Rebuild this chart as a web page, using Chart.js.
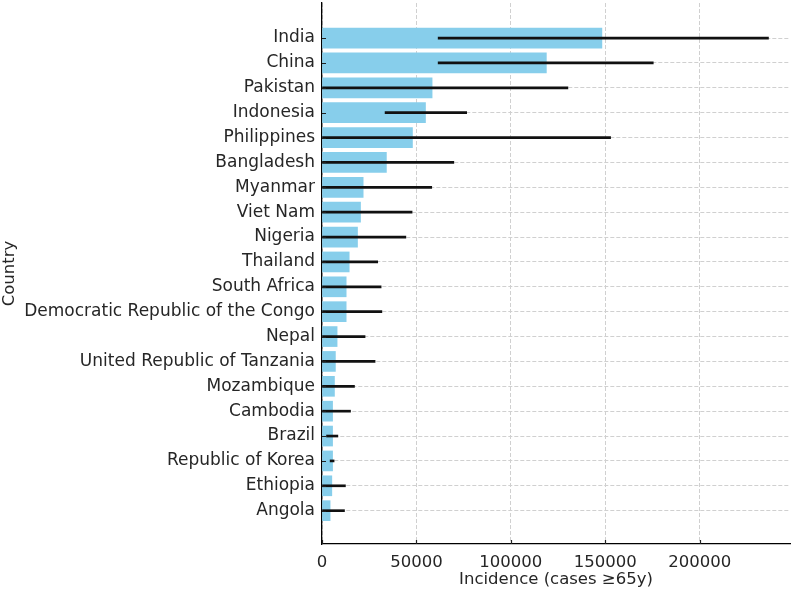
<!DOCTYPE html>
<html lang="en">
<head>
<meta charset="UTF-8" />
<title>Incidence (cases ≥65y) by country</title>
<script src="https://cdn.jsdelivr.net/npm/chart.js"></script>
<style>
  html, body { margin: 0; padding: 0; background: #fff; }
  #wrap { width: 794px; height: 591px; }
</style>
</head>
<body>
<div id="wrap"><canvas id="incidenceChart" width="794" height="591"></canvas></div>
<script>
// data
const countries = ['India', 'China', 'Pakistan', 'Indonesia', 'Philippines', 'Bangladesh',
  'Myanmar', 'Viet Nam', 'Nigeria', 'Thailand', 'South Africa',
  'Democratic Republic of the Congo', 'Nepal', 'United Republic of Tanzania',
  'Mozambique', 'Cambodia', 'Brazil', 'Republic of Korea', 'Ethiopia', 'Angola'];
const incidence  = [148200, 118800, 58300, 54800, 47900, 34100, 21800, 20400, 18800, 14400,
  12800, 12800, 8000, 7100, 6600, 5600, 5600, 5600, 5200, 4300];
const lowerBound = [61500, 61500, 0, 33400, 0, 0, 0, 0, 0, 0,
  0, 0, 0, 0, 0, 0, 2400, 4300, 0, 0];
const upperBound = [236400, 175400, 130200, 76600, 152800, 69800, 58100, 47700, 44400, 29500,
  31300, 31700, 22800, 28100, 17200, 15100, 8400, 6400, 12400, 11900];
const xTicks = [0, 50000, 100000, 150000, 200000];

const font = { family: '"DejaVu Sans", sans-serif', size: 16.5 };
const textColor = '#262626';

// matplotlib style ticks pointing into the plot
const inwardTicks = {
  id: 'inwardTicks',
  afterDatasetsDraw(chart) {
    const { ctx, chartArea, scales: { x, y } } = chart;
    ctx.save();
    ctx.strokeStyle = '#222';
    ctx.lineWidth = 1.2;
    ctx.beginPath();
    x.ticks.forEach(t => {
      const px = Math.round(x.getPixelForValue(t.value)) + 0.5;
      ctx.moveTo(px, chartArea.bottom);
      ctx.lineTo(px, chartArea.bottom - 4);
    });
    y.ticks.forEach(t => {
      const py = Math.round(y.getPixelForValue(t.value)) + 0.5;
      ctx.moveTo(chartArea.left, py);
      ctx.lineTo(chartArea.left + 4, py);
    });
    ctx.stroke();
    ctx.restore();
  }
};

const ctx = document.getElementById('incidenceChart').getContext('2d');
const incidenceChart = new Chart(ctx, {
  type: 'bar',
  data: {
    datasets: [
      {
        label: 'Incidence',
        data: countries.map((c, i) => ({ y: i, x: incidence[i] })),
        backgroundColor: '#87CEEB',
        barThickness: 20,
        grouped: false,
        order: 1
      },
      {
        label: 'Uncertainty',
        data: countries.map((c, i) => ({ y: i, x: [lowerBound[i], upperBound[i]] })),
        backgroundColor: '#111',
        barThickness: 2,
        grouped: false,
        order: 0
      }
    ]
  },
  options: {
    indexAxis: 'y',
    responsive: false,
    animation: false,
    devicePixelRatio: 1,
    layout: { padding: { top: 3, right: 4, left: 0, bottom: 0 } },
    plugins: {
      legend: { display: false },
      tooltip: { enabled: false }
    },
    scales: {
      x: {
        type: 'linear',
        min: 0,
        max: 247800,
        afterBuildTicks: s => { s.ticks = xTicks.map(v => ({ value: v })); },
        afterFit: s => { s.height = 47; s.paddingLeft = 0; s.paddingRight = 0; },
        ticks: { callback: v => String(v), font, color: textColor, padding: 9, maxRotation: 0 },
        grid: { color: '#d0d0d0', lineWidth: 1, drawTicks: false },
        border: { color: '#000', width: 1.3, dash: [4, 2] },
        title: { display: true, text: 'Incidence (cases ≥65y)', font, color: textColor, padding: { top: 0, bottom: 1 } }
      },
      y: {
        type: 'linear',
        reverse: true,
        offset: false,
        min: -1.41,
        max: 20.34,
        afterBuildTicks: s => { s.ticks = countries.map((c, i) => ({ value: i })); },
        afterFit: s => { s.width = 322; s.paddingTop = 0; s.paddingBottom = 0; },
        ticks: { callback: v => countries[v], font: { ...font, size: 17 }, color: textColor, padding: 7, autoSkip: false },
        grid: { color: '#d0d0d0', lineWidth: 1, drawTicks: false, offset: false },
        border: { color: '#000', width: 1.3, dash: [4, 2] },
        title: { display: true, text: 'Country', font, color: textColor, padding: 0 }
      }
    }
  },
  plugins: [inwardTicks]
});
</script>
</body>
</html>
